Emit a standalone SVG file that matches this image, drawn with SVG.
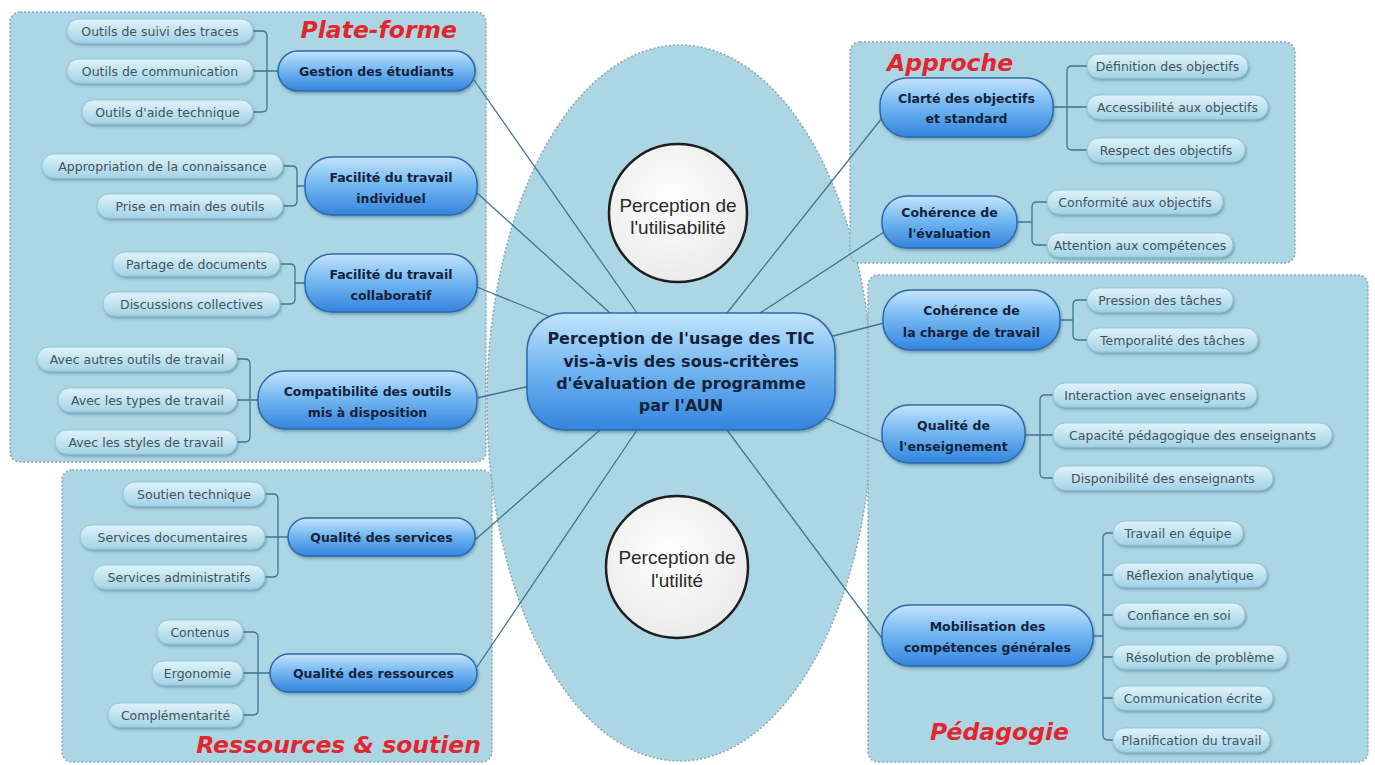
<svg xmlns="http://www.w3.org/2000/svg" width="1375" height="765" viewBox="0 0 1375 765">
<defs>
<linearGradient id="mainGrad" x1="0" y1="0" x2="0" y2="1">
<stop offset="0" stop-color="#c4e4fb"/>
<stop offset="0.45" stop-color="#76b9f2"/>
<stop offset="1" stop-color="#3384de"/>
</linearGradient>
<linearGradient id="childGrad" x1="0" y1="0" x2="0" y2="1">
<stop offset="0" stop-color="#e0f3fa"/>
<stop offset="1" stop-color="#a3d3e6"/>
</linearGradient>
<radialGradient id="circGrad" cx="0.45" cy="0.4" r="0.6">
<stop offset="0" stop-color="#ffffff"/>
<stop offset="1" stop-color="#ebebeb"/>
</radialGradient>
<filter id="sh" x="-10%" y="-20%" width="125%" height="170%">
<feDropShadow dx="1" dy="2" stdDeviation="1.5" flood-color="#2c5a70" flood-opacity="0.45"/>
</filter>
</defs>
<style>
.panel{fill:#acd6e4;stroke:#8da7b2;stroke-width:1.5;stroke-dasharray:2 2}
.main rect{fill:url(#mainGrad);stroke:#2e69ab;stroke-width:1.5;filter:url(#sh)}
.child rect{fill:url(#childGrad);stroke:#94c8da;stroke-width:1;filter:url(#sh)}
.main text{font-family:"DejaVu Sans",sans-serif;font-weight:bold;font-size:12.5px;fill:#14223a;text-anchor:middle}
.child text{font-family:"DejaVu Sans",sans-serif;font-size:12.5px;fill:#46525a;text-anchor:middle}
.conn{fill:none;stroke:#3e7494;stroke-width:1.3}
.title{font-family:"DejaVu Sans",sans-serif;font-weight:bold;font-style:italic;font-size:23.5px;fill:#e3262e}
.circ circle{fill:url(#circGrad);stroke:#1e1e1e;stroke-width:2.5}
.circ text{font-family:"Liberation Sans",Arial,sans-serif;font-size:19px;fill:#2a2a2a;text-anchor:middle}
#central text{font-size:16px}
</style>
<rect width="1375" height="765" fill="#ffffff"/>

<g id="backgrounds">
<ellipse class="panel" cx="680" cy="403" rx="193" ry="358"/>
<rect id="panel-plateforme" class="panel" x="10" y="12" width="476" height="450" rx="10"/>
<rect id="panel-ressources" class="panel" x="62" y="470" width="430" height="292" rx="10"/>
<rect id="panel-approche" class="panel" x="850" y="42" width="445" height="221" rx="10"/>
<rect id="panel-pedagogie" class="panel" x="868" y="275" width="500" height="487" rx="10"/>
</g>

<g id="connectors">
<path class="conn" d="M474,80 L637,313"/>
<path class="conn" d="M477,193 L610,313"/>
<path class="conn" d="M477,287 L553,318"/>
<path class="conn" d="M477,398 L530,386"/>
<path class="conn" d="M475,540 L600,430"/>
<path class="conn" d="M477,667 L637,430"/>
<path class="conn" d="M882,118 L727,313"/>
<path class="conn" d="M884,232 L760,313"/>
<path class="conn" d="M884,323 L829,337"/>
<path class="conn" d="M882,442 L823,417"/>
<path class="conn" d="M884,641 L727,430"/>
<path class="conn" d="M253,31 H262 Q267,31 267,36 V107 Q267,112 262,112 H253 M253,71 H278"/>
<path class="conn" d="M283,166 H292 Q297,166 297,171 V201 Q297,206 292,206 H283 M297,186 H305"/>
<path class="conn" d="M280,264 H290 Q295,264 295,269 V299 Q295,304 290,304 H280 M295,283 H305"/>
<path class="conn" d="M237,359 H245 Q250,359 250,364 V437 Q250,442 245,442 H237 M237,400 H258"/>
<path class="conn" d="M265,494 H273 Q278,494 278,499 V572 Q278,577 273,577 H265 M265,537 H288"/>
<path class="conn" d="M243,632 H253 Q258,632 258,637 V710 Q258,715 253,715 H243 M243,673 H270"/>
<path class="conn" d="M1087,66 H1072 Q1067,66 1067,71 V145 Q1067,150 1072,150 H1087 M1053,107 H1087"/>
<path class="conn" d="M1047,202 H1037 Q1032,202 1032,207 V240 Q1032,245 1037,245 H1047 M1017,222 H1032"/>
<path class="conn" d="M1087,300 H1078 Q1073,300 1073,305 V335 Q1073,340 1078,340 H1087 M1060,320 H1073"/>
<path class="conn" d="M1053,395 H1045 Q1040,395 1040,400 V473 Q1040,478 1045,478 H1053 M1025,435 H1053"/>
<path class="conn" d="M1113,533 H1108 Q1103,533 1103,538 V735 Q1103,740 1108,740 H1113 M1103,575 H1113 M1103,615 H1113 M1103,657 H1113 M1103,698 H1113 M1093,636 H1103"/>
</g>

<g id="circle-utilisabilite" class="circ">
<circle cx="678" cy="213" r="69"/>
<text x="678" y="211.5">Perception de</text>
<text x="678" y="233.5">l'utilisabilité</text>
</g>
<g id="circle-utilite" class="circ">
<circle cx="677" cy="567" r="71"/>
<text x="677" y="563.5">Perception de</text>
<text x="677" y="586.5">l'utilité</text>
</g>

<g id="central" class="main">
<rect x="527" y="313" width="308" height="117" rx="38"/>
<text x="681" y="344">Perception de l'usage des TIC</text>
<text x="681" y="367">vis-à-vis des sous-critères</text>
<text x="681" y="389">d'évaluation de programme</text>
<text x="681" y="411">par l'AUN</text>
</g>

<g id="n-gestion" class="main"><rect x="278" y="51" width="197" height="40" rx="20"/><text x="376.5" y="75.5">Gestion des étudiants</text></g>
<g id="n-fac-ind" class="main"><rect x="305" y="157" width="172" height="58" rx="27"/><text x="391" y="182">Facilité du travail</text><text x="391" y="203">individuel</text></g>
<g id="n-fac-coll" class="main"><rect x="305" y="254" width="172" height="58" rx="27"/><text x="391" y="278.5">Facilité du travail</text><text x="391" y="300">collaboratif</text></g>
<g id="n-compat" class="main"><rect x="258" y="371" width="219" height="58" rx="27"/><text x="367.5" y="396">Compatibilité des outils</text><text x="367.5" y="417">mis à disposition</text></g>
<g id="n-services" class="main"><rect x="288" y="518" width="187" height="38" rx="19"/><text x="381.5" y="541.5">Qualité des services</text></g>
<g id="n-ressources" class="main"><rect x="270" y="654" width="207" height="38" rx="19"/><text x="373.5" y="677.5">Qualité des ressources</text></g>
<g id="n-clarte" class="main"><rect x="880" y="78" width="173" height="59" rx="27"/><text x="966.5" y="103">Clarté des objectifs</text><text x="966.5" y="123">et standard</text></g>
<g id="n-coh-eval" class="main"><rect x="882" y="196" width="135" height="52" rx="25"/><text x="949.5" y="217">Cohérence de</text><text x="949.5" y="238">l'évaluation</text></g>
<g id="n-coh-charge" class="main"><rect x="883" y="290" width="177" height="60" rx="28"/><text x="971.5" y="314.5">Cohérence de</text><text x="971.5" y="336.5">la charge de travail</text></g>
<g id="n-qual-ens" class="main"><rect x="882" y="405" width="143" height="58" rx="27"/><text x="953.5" y="430">Qualité de</text><text x="953.5" y="451">l'enseignement</text></g>
<g id="n-mobil" class="main"><rect x="882" y="605" width="211" height="61" rx="28"/><text x="987.5" y="631">Mobilisation des</text><text x="987.5" y="652">compétences générales</text></g>

<g id="c-suivi" class="child"><rect x="67" y="19" width="186" height="24" rx="12"/><text x="160" y="35.5">Outils de suivi des traces</text></g>
<g id="c-comm" class="child"><rect x="67" y="59" width="186" height="24" rx="12"/><text x="160" y="75.5">Outils de communication</text></g>
<g id="c-aide" class="child"><rect x="82" y="100" width="171" height="24" rx="12"/><text x="167.5" y="116.5">Outils d'aide technique</text></g>
<g id="c-approp" class="child"><rect x="42" y="154" width="241" height="24" rx="12"/><text x="162.5" y="170.5">Appropriation de la connaissance</text></g>
<g id="c-prise" class="child"><rect x="97" y="194" width="186" height="24" rx="12"/><text x="190" y="210.5">Prise en main des outils</text></g>
<g id="c-partage" class="child"><rect x="113" y="252" width="167" height="24" rx="12"/><text x="196.5" y="268.5">Partage de documents</text></g>
<g id="c-discussions" class="child"><rect x="103" y="292" width="177" height="24" rx="12"/><text x="191.5" y="308.5">Discussions collectives</text></g>
<g id="c-autres" class="child"><rect x="37" y="347" width="200" height="24" rx="12"/><text x="137" y="363.5">Avec autres outils de travail</text></g>
<g id="c-types" class="child"><rect x="58" y="388" width="179" height="24" rx="12"/><text x="147.5" y="404.5">Avec les types de travail</text></g>
<g id="c-styles" class="child"><rect x="55" y="430" width="182" height="24" rx="12"/><text x="146" y="446.5">Avec les styles de travail</text></g>
<g id="c-soutien" class="child"><rect x="123" y="482" width="142" height="24" rx="12"/><text x="194" y="498.5">Soutien technique</text></g>
<g id="c-servdoc" class="child"><rect x="80" y="525" width="185" height="24" rx="12"/><text x="172.5" y="541.5">Services documentaires</text></g>
<g id="c-servadm" class="child"><rect x="93" y="565" width="172" height="24" rx="12"/><text x="179" y="581.5">Services administratifs</text></g>
<g id="c-contenus" class="child"><rect x="157" y="620" width="86" height="24" rx="12"/><text x="200" y="636.5">Contenus</text></g>
<g id="c-ergonomie" class="child"><rect x="152" y="661" width="91" height="24" rx="12"/><text x="197.5" y="677.5">Ergonomie</text></g>
<g id="c-complement" class="child"><rect x="108" y="703" width="135" height="24" rx="12"/><text x="175.5" y="719.5">Complémentarité</text></g>

<g id="c-definition" class="child"><rect x="1087" y="54" width="161" height="24" rx="12"/><text x="1167.5" y="70.5">Définition des objectifs</text></g>
<g id="c-access" class="child"><rect x="1087" y="95" width="181" height="24" rx="12"/><text x="1177.5" y="111.5">Accessibilité aux objectifs</text></g>
<g id="c-respect" class="child"><rect x="1087" y="138" width="158" height="24" rx="12"/><text x="1166" y="154.5">Respect des objectifs</text></g>
<g id="c-conform" class="child"><rect x="1047" y="190" width="176" height="24" rx="12"/><text x="1135" y="206.5">Conformité aux objectifs</text></g>
<g id="c-attention" class="child"><rect x="1047" y="233" width="186" height="24" rx="12"/><text x="1140" y="249.5">Attention aux compétences</text></g>
<g id="c-pression" class="child"><rect x="1087" y="288" width="146" height="24" rx="12"/><text x="1160" y="304.5">Pression des tâches</text></g>
<g id="c-temporalite" class="child"><rect x="1087" y="328" width="171" height="24" rx="12"/><text x="1172.5" y="344.5">Temporalité des tâches</text></g>
<g id="c-interaction" class="child"><rect x="1053" y="383" width="204" height="24" rx="12"/><text x="1155" y="399.5">Interaction avec enseignants</text></g>
<g id="c-capacite" class="child"><rect x="1053" y="423" width="279" height="24" rx="12"/><text x="1192.5" y="439.5">Capacité pédagogique des enseignants</text></g>
<g id="c-dispo" class="child"><rect x="1053" y="466" width="220" height="24" rx="12"/><text x="1163" y="482.5">Disponibilité des enseignants</text></g>
<g id="c-equipe" class="child"><rect x="1113" y="521" width="130" height="24" rx="12"/><text x="1178" y="537.5">Travail en équipe</text></g>
<g id="c-reflexion" class="child"><rect x="1113" y="563" width="154" height="24" rx="12"/><text x="1190" y="579.5">Réflexion analytique</text></g>
<g id="c-confiance" class="child"><rect x="1113" y="603" width="132" height="24" rx="12"/><text x="1179" y="619.5">Confiance en soi</text></g>
<g id="c-resolution" class="child"><rect x="1113" y="645" width="174" height="24" rx="12"/><text x="1200" y="661.5">Résolution de problème</text></g>
<g id="c-communication" class="child"><rect x="1113" y="686" width="160" height="24" rx="12"/><text x="1193" y="702.5">Communication écrite</text></g>
<g id="c-planification" class="child"><rect x="1113" y="728" width="157" height="24" rx="12"/><text x="1191.5" y="744.5">Planification du travail</text></g>

<g id="titles">
<text class="title" x="457" y="38" text-anchor="end">Plate-forme</text>
<text class="title" x="481" y="753" text-anchor="end">Ressources &amp; soutien</text>
<text class="title" x="887" y="71">Approche</text>
<text class="title" x="930" y="740">Pédagogie</text>
</g>
</svg>
